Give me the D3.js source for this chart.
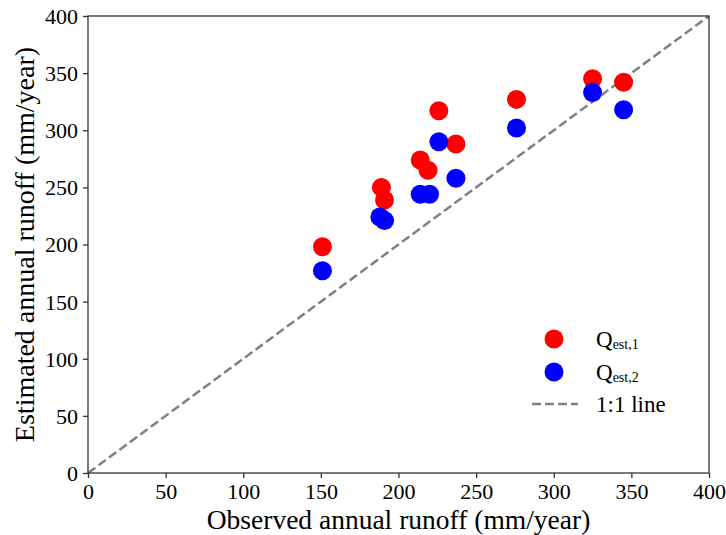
<!DOCTYPE html>
<html><head><meta charset="utf-8">
<script src="https://cdn.jsdelivr.net/npm/d3@7"></script>
<style>body{margin:0;background:#fff}svg{display:block}</style>
</head><body><div id="chart"></div>
<script>
const observed = [151, 189, 191, 214, 219, 226, 237, 276, 325, 345];
const est1 = [198, 250, 239, 274, 265, 317, 288, 327, 345, 342];
const est2obs = [151, 188, 191, 214, 220, 226, 237, 276, 325, 345];
const est2 = [177, 224, 221, 244, 244, 290, 258, 302, 333, 318];
const ticks = [0, 50, 100, 150, 200, 250, 300, 350, 400];
const xTitle = "Observed annual runoff (mm/year)";
const yTitle = "Estimated annual runoff (mm/year)";
const legendLabels = ["est,1", "est,2"];

const FONT = "Liberation Serif";
const W = 726, H = 535;
const m = {l: 88, r: 17, t: 16, b: 62};
const svg = d3.select("#chart").append("svg").attr("width", W).attr("height", H)
  .attr("font-family", FONT);
const x = d3.scaleLinear().domain([0, 400]).range([m.l, W - m.r]);
const y = d3.scaleLinear().domain([0, 400]).range([H - m.b, m.t]);

// 1:1 line
svg.append("line").attr("x1", x(0)).attr("y1", y(0)).attr("x2", x(400)).attr("y2", y(400))
  .attr("stroke", "#808080").attr("stroke-width", 2.5).attr("stroke-dasharray", "9,4");

const r = 9.5;
svg.append("g").selectAll("circle").data(observed).join("circle")
  .attr("cx", d => x(d)).attr("cy", (d, i) => y(est1[i])).attr("r", r).attr("fill", "#ff0000");
svg.append("g").selectAll("circle").data(est2obs).join("circle")
  .attr("cx", d => x(d)).attr("cy", (d, i) => y(est2[i])).attr("r", r).attr("fill", "#0000ff");

// frame
svg.append("rect").attr("x", x(0)).attr("y", y(400)).attr("width", x(400) - x(0)).attr("height", y(0) - y(400))
  .attr("fill", "none").attr("stroke", "#333").attr("stroke-width", 1.3);

const xa = svg.append("g").attr("transform", `translate(0,${y(0)})`)
  .call(d3.axisBottom(x).tickValues(ticks).tickSize(5).tickSizeOuter(0));
const ya = svg.append("g").attr("transform", `translate(${x(0)},0)`)
  .call(d3.axisLeft(y).tickValues(ticks).tickSize(5).tickSizeOuter(0));
[xa, ya].forEach(a => {
  a.attr("font-family", FONT).attr("font-size", 22);
  a.select(".domain").remove();
  a.selectAll("line").attr("stroke", "#333").attr("stroke-width", 1.3);
  a.selectAll("text").attr("fill", "#000");
});
xa.selectAll("text").attr("dy", null).attr("y", 26);
ya.selectAll("text").attr("x", -10).attr("dy", "0.34em");

svg.append("text").attr("x", (x(0) + x(400)) / 2).attr("y", 529).attr("text-anchor", "middle")
  .attr("font-size", 27.5).text(xTitle);
svg.append("text").attr("transform", `translate(34,${(y(0) + y(400)) / 2}) rotate(-90)`).attr("text-anchor", "middle")
  .attr("font-size", 28).text(yTitle);

// legend
const lg = svg.append("g");
lg.append("circle").attr("cx", 554).attr("cy", 339).attr("r", r).attr("fill", "#ff0000");
lg.append("circle").attr("cx", 554).attr("cy", 372).attr("r", r).attr("fill", "#0000ff");
lg.append("line").attr("x1", 532).attr("x2", 578).attr("y1", 404).attr("y2", 404)
  .attr("stroke", "#808080").attr("stroke-width", 2.5).attr("stroke-dasharray", "9,4");
[[legendLabels[0], 347], [legendLabels[1], 380]].forEach(([s, yy]) => {
  const t = lg.append("text").attr("x", 596).attr("y", yy).attr("font-size", 23);
  t.append("tspan").text("Q");
  t.append("tspan").attr("font-size", 14).attr("dy", 2).text(s);
});
lg.append("text").attr("x", 596).attr("y", 412).attr("font-size", 23).text("1:1 line");
</script></body></html>
